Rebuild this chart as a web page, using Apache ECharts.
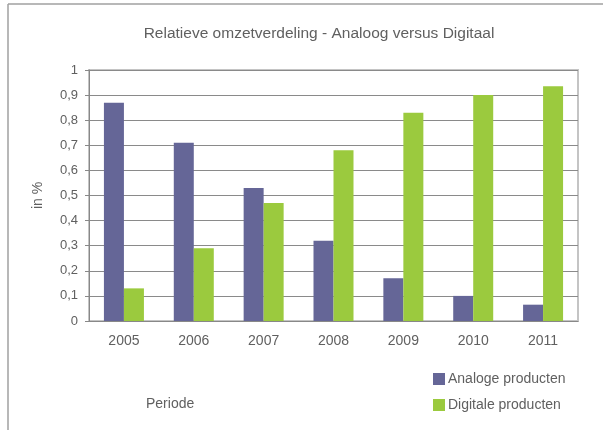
<!DOCTYPE html>
<html>
<head>
<meta charset="utf-8">
<script src="https://cdn.jsdelivr.net/npm/echarts@6/dist/echarts.min.js"></script>
<style>
  html, body { margin: 0; padding: 0; background: #fff; }
  #main { width: 603px; height: 430px; }
</style>
</head>
<body>
<div id="main"></div>
<script>
// jaren (categorieen)
const jaren = ['2005', '2006', '2007', '2008', '2009', '2010', '2011'];
// aandeel per jaar
const analoog = [0.87, 0.71, 0.53, 0.32, 0.17, 0.10, 0.065];
const digitaal = [0.13, 0.29, 0.47, 0.68, 0.83, 0.90, 0.935];
const reeksNamen = ['Analoge producten', 'Digitale producten'];

let chart = echarts.init(document.getElementById('main'));

let option = {
    animation: false,
    textStyle: { fontFamily: 'Liberation Sans, Arial, sans-serif' },
    title: {
        text: 'Relatieve omzetverdeling - Analoog versus Digitaal',
        left: 314,
        textAlign: 'center',
        top: 21,
        textStyle: { fontSize: 15.5, fontWeight: 'normal', color: '#606060' }
    },
    legend: {
        orient: 'vertical',
        left: 428,
        top: 367,
        itemWidth: 12,
        itemHeight: 12,
        itemGap: 12,
        icon: 'rect',
        textStyle: { fontSize: 14, color: '#606060', padding: [0, 0, 0, -2] },
        data: reeksNamen
    },
    grid: {
        left: 89, right: 25, top: 70, bottom: 109,
        show: true, borderColor: '#c4c4c4', borderWidth: 2
    },
    xAxis: {
        type: 'category',
        data: jaren,
        axisLine: { lineStyle: { color: '#888', width: 1 } },
        axisTick: { length: 5, lineStyle: { color: '#888' } },
        axisLabel: { fontSize: 14, color: '#606060', margin: 13 }
    },
    yAxis: {
        type: 'value',
        min: 0, max: 1, interval: 0.1,
        name: 'in %',
        nameLocation: 'middle',
        nameGap: 44,
        nameTextStyle: { fontSize: 14, color: '#606060' },
        axisLine: { show: true, lineStyle: { color: '#888' } },
        axisTick: { show: true, length: 4, lineStyle: { color: '#888' } },
        axisLabel: {
            fontSize: 13, color: '#606060', margin: 11,
            formatter: function (v) { return String(Math.round(v * 10) / 10).replace('.', ','); }
        },
        splitLine: { lineStyle: { color: '#8a8a8a', width: 1 } }
    },
    graphic: [
        { type: 'line', shape: { x1: 8, y1: 4, x2: 603, y2: 4 }, style: { stroke: '#a0a0a0', lineWidth: 1.5 } },
        { type: 'line', shape: { x1: 8, y1: 4, x2: 8, y2: 430 }, style: { stroke: '#a0a0a0', lineWidth: 1.5 } },
        { type: 'text', left: 146, top: 397, style: { text: 'Periode', fontSize: 14, fill: '#606060', fontFamily: 'Liberation Sans, Arial, sans-serif' } }
    ],
    series: [
        {
            name: reeksNamen[0], type: 'bar', data: analoog,
            barWidth: 20, barGap: '0%',
            itemStyle: { color: '#656697' }
        },
        {
            name: reeksNamen[1], type: 'bar', data: digitaal,
            barWidth: 20,
            itemStyle: { color: '#9bca3e' }
        }
    ]
};

chart.setOption(option);
</script>
</body>
</html>
